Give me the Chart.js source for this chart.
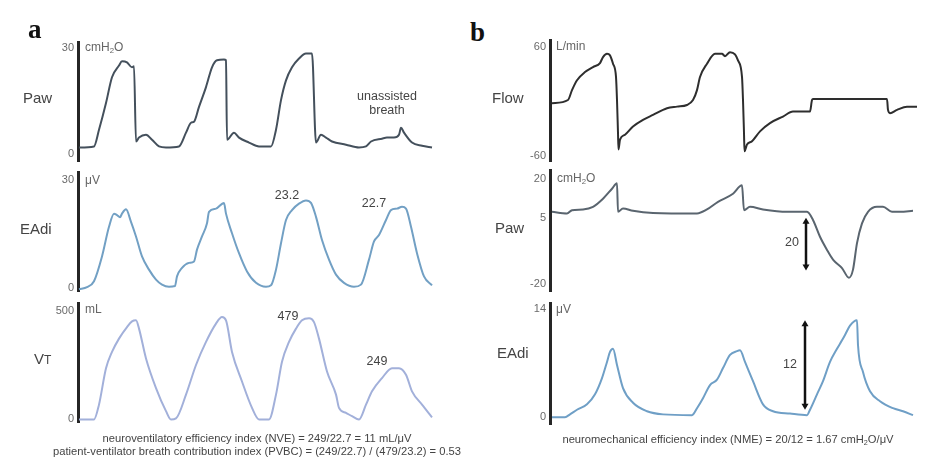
<!DOCTYPE html>
<html>
<head>
<meta charset="utf-8">
<script src="https://cdn.jsdelivr.net/npm/chart.js@4.4.1/dist/chart.umd.min.js"></script>
<style>
  html, body { margin: 0; padding: 0; background: #fff; }
  #page { position: relative; width: 950px; height: 465px; overflow: hidden; font-family: "Liberation Sans", Arial, sans-serif; }
  #page canvas { position: absolute; }
  .lbl { position: absolute; line-height: 1; white-space: nowrap; transform: translateY(-50%); }
  .panel { font-family: "Liberation Serif", "DejaVu Serif", serif; font-weight: bold; font-size: 27px; color: #111; }
  .row { font-size: 15px; color: #444; }
  .unit { font-size: 12px; color: #666; }
  .foot { font-size: 11.2px; color: #444; transform: translate(-50%, -50%); }
  sub { font-size: 0.65em; vertical-align: -0.25em; line-height: 0; }
</style>
</head>
<body>
<div id="page">
  <canvas id="pawA" width="400" height="140" style="left:38px;top:32px"></canvas>
  <canvas id="eadiA" width="400" height="140" style="left:38px;top:162px"></canvas>
  <canvas id="vtA" width="400" height="140" style="left:38px;top:293px"></canvas>
  <canvas id="flowB" width="410" height="142" style="left:510px;top:30px"></canvas>
  <canvas id="pawB" width="410" height="142" style="left:510px;top:160px"></canvas>
  <canvas id="eadiB" width="410" height="142" style="left:510px;top:293px"></canvas>

  <div class="lbl panel" style="left:28px;top:29px">a</div>
  <div class="lbl panel" style="left:470px;top:32px">b</div>

  <div class="lbl row" style="left:23px;top:97px">Paw</div>
  <div class="lbl row" style="left:20px;top:228px">EAdi</div>
  <div class="lbl row" style="left:34px;top:358px">V<span style="font-size:0.8em">T</span></div>
  <div class="lbl row" style="left:492px;top:97px">Flow</div>
  <div class="lbl row" style="left:495px;top:227px">Paw</div>
  <div class="lbl row" style="left:497px;top:352px">EAdi</div>

  <div class="lbl unit" style="left:85px;top:47px">cmH<sub>2</sub>O</div>
  <div class="lbl unit" style="left:85px;top:180px">μV</div>
  <div class="lbl unit" style="left:85px;top:309px">mL</div>
  <div class="lbl unit" style="left:556px;top:46px">L/min</div>
  <div class="lbl unit" style="left:557px;top:178px">cmH<sub>2</sub>O</div>
  <div class="lbl unit" style="left:556px;top:309px">μV</div>

  <div class="lbl foot" style="left:257px;top:439px">neuroventilatory efficiency index (NVE) = 249/22.7 = 11 mL/μV</div>
  <div class="lbl foot" style="left:257px;top:452px">patient-ventilator breath contribution index (PVBC) = (249/22.7) / (479/23.2) = 0.53</div>
  <div class="lbl foot" style="left:728px;top:440px">neuromechanical efficiency index (NME) = 20/12 = 1.67 cmH<sub>2</sub>O/μV</div>
</div>

<script>
// ---- data (time in arbitrary units, values in the panel's unit) ----

// a: Paw (cmH2O)
const pawATime = [1,16,21,28,34,41,44,49,54,56,58,61,68,74,81,88,101,108,113,116,121,128,134,139,146,148,149,156,161,171,181,193,198,203,208,214,221,228,234,238,243,248,254,268,281,288,293,304,309,316,321,323,326,334,344,354];
const pawAValues = [1.7,2.0,6.7,14.3,21.6,24.9,26.1,25.8,24.4,24.7,3.4,4.5,5.3,3.9,2.0,1.7,2.0,5.9,8.7,9.0,13.2,18.8,24.4,26.4,26.6,26.4,3.9,5.9,4.5,3.1,2.0,2.0,6.7,15.1,20.7,24.4,26.9,28.3,28.3,3.1,5.3,4.5,3.4,2.5,1.7,2.0,3.4,4.2,4.5,4.5,5.3,7.3,5.9,3.1,2.2,1.7];

// a: EAdi (uV)
const eadiATime = [1,9,16,24,31,36,39,42,44,48,53,58,64,71,78,84,91,97,99,104,111,116,119,124,129,131,138,146,148,154,161,169,178,188,193,198,203,208,214,221,228,233,238,244,251,258,266,276,283,291,296,301,308,313,319,324,328,333,339,346,354];
const eadiAValues = [-0.5,0.1,1.75,8.7,17.0,20.7,20.3,19.7,20.7,21.9,18.4,14.3,8.7,5.0,2.2,0.8,0.2,0.4,3.1,5.5,6.9,7.3,10.6,14.3,18.0,21.2,22.1,23.7,20.7,15.2,9.6,4.5,1.3,0.2,0.6,5.0,12.4,18.9,21.7,23.5,24.4,23.7,19.8,13.3,7.8,3.6,1.3,0.2,0.8,7.8,12.9,14.7,18.9,21.7,22.1,22.6,22.1,17.0,9.6,3.1,0.6];

// a: tidal volume (mL)
const vtATime = [1,16,21,28,34,41,49,54,58,61,68,78,88,93,98,108,118,128,138,144,148,154,164,174,181,191,198,204,211,218,224,231,236,241,249,258,261,268,274,281,288,294,304,314,321,328,334,344,354];
const vtAValues = [0,0,68,235,310,371,424,450,455,417,280,144,38,0,5,114,250,356,440,470,455,310,174,53,0,0,114,265,356,417,455,465,447,371,220,114,53,30,15,0,68,129,190,235,235,205,129,68,10];

// b: Flow (L/min)
const flowBTime = [2,18,22,27,35,43,50,53,57,60,63,66,67,68,68.5,70,75,83,93,103,117,127,137,143,147,150,157,165,172,175,180,185,188,192,193,194,194.5,197,202,210,220,233,243,260,262,263,337,338,340,347,357,367];
const flowBValues = [-2.5,1.1,12.0,22.9,31.9,37.4,41.8,48.3,51.9,50.2,41.1,26.5,1.1,-35.3,-53.4,-42.5,-37.1,-28.0,-20.7,-15.3,-8.0,-6.2,-4.4,1.1,12.0,26.5,41.1,51.9,51.9,49.4,53.8,51.3,44.7,26.5,1.1,-35.3,-55.3,-48.0,-44.3,-33.4,-24.3,-17.1,-11.6,-11.6,1.1,2.2,2.2,-9.8,-13.4,-9.8,-6.2,-6.2];

// b: Paw (cmH2O)
const pawBTime = [2,17,22,33,43,53,62,67,68,73,83,103,147,157,168,183,192,194,200,213,237,257,263,270,277,283,292,299,303,307,312,318,327,333,342,350,363];
const pawBValues = [7.3,6.7,7.9,8.2,9.2,12.3,16.1,18.2,7.3,8.6,7.7,6.9,6.7,8.2,11.1,14.2,17.4,7.9,9.2,8.2,7.3,7.3,4.2,-2.2,-7.2,-10.9,-14.1,-17.8,-14.7,-4.6,2.9,7.3,9.2,9.2,7.3,7.3,7.7];

// b: EAdi (uV)
const eadiBTime = [2,15,20,27,37,45,52,57,60,63,67,73,83,97,113,142,147,153,160,167,173,180,187,190,195,203,213,223,240,257,260,267,273,280,287,292,295,300,307,308,313,320,330,343,353,363];
const eadiBValues = [0.04,0.04,0.4,1.0,1.7,3.0,5.1,7.2,8.5,8.9,6.8,3.8,1.9,0.8,0.4,0.3,1.2,2.5,4.2,4.9,6.4,8.1,8.6,8.7,7.2,4.7,1.7,0.8,0.5,0.3,1.0,3.0,4.7,7.2,8.9,10.0,10.7,11.9,12.6,9.4,5.9,3.4,2.1,1.2,0.8,0.3];

// tick labels shown on each vertical axis
const pawATicks = [0, 30];
const eadiATicks = [0, 30];
const vtATicks = [0, 500];
const flowBTicks = [-60, 60];
const pawBTicks = [-20, 5, 20];
const eadiBTicks = [0, 14];

// value callouts
const eadiANotes = [{ t: 209, v: 25.8, text: '23.2' }, { t: 296, v: 23.6, text: '22.7' }];
const vtANotes = [{ t: 210, v: 473, text: '479' }, { t: 299, v: 264, text: '249' }];
const pawANotes = [{ t: 309, v: 16.0, text: 'unassisted' }, { t: 309, v: 12.3, text: 'breath' }];
const pawBNotes = [{ t: 242, v: -4.5, text: '20' }];
const eadiBNotes = [{ t: 240, v: 6.8, text: '12' }];

// double headed arrows (time, from value, to value)
const pawBArrows = [{ t: 256, from: 5, to: -15 }];
const eadiBArrows = [{ t: 255, from: 1, to: 12.6 }];

// ---- drawing ----

const notesPlugin = {
    id: 'notes',
    afterDatasetsDraw(chart, args, opts) {
        const { ctx, scales: { x, y } } = chart;
        ctx.save();
        ctx.fillStyle = '#444';
        ctx.font = '12.5px "Liberation Sans", Arial, sans-serif';
        ctx.textAlign = 'center';
        ctx.textBaseline = 'middle';
        (opts.notes || []).forEach(n => {
            ctx.fillText(n.text, x.getPixelForValue(n.t), y.getPixelForValue(n.v));
        });
        ctx.strokeStyle = '#111';
        ctx.fillStyle = '#111';
        ctx.lineWidth = 2.5;
        (opts.arrows || []).forEach(a => {
            const px = x.getPixelForValue(a.t);
            const y1 = y.getPixelForValue(a.from);
            const y2 = y.getPixelForValue(a.to);
            const top = Math.min(y1, y2), bot = Math.max(y1, y2);
            ctx.beginPath();
            ctx.moveTo(px, top + 3);
            ctx.lineTo(px, bot - 3);
            ctx.stroke();
            [[top, 1], [bot, -1]].forEach(([tip, dir]) => {
                ctx.beginPath();
                ctx.moveTo(px, tip);
                ctx.lineTo(px - 3.5, tip + dir * 6);
                ctx.lineTo(px + 3.5, tip + dir * 6);
                ctx.closePath();
                ctx.fill();
            });
        });
        ctx.restore();
    }
};

function makeTrace(id, times, values, o) {
    const points = times.map((t, i) => ({ x: t, y: values[i] }));
    return new Chart(document.getElementById(id), {
        type: 'line',
        data: {
            datasets: [{
                data: points,
                borderColor: o.color,
                borderWidth: 2,
                pointRadius: 0,
                cubicInterpolationMode: 'monotone',
                fill: false
            }]
        },
        options: {
            responsive: false,
            animation: false,
            events: [],
            layout: { padding: { top: 10, bottom: 10, left: 0, right: 0 } },
            plugins: {
                legend: { display: false },
                tooltip: { enabled: false },
                notes: { notes: o.notes || [], arrows: o.arrows || [] }
            },
            scales: {
                x: { type: 'linear', display: false, min: 0, max: o.xMax },
                y: {
                    type: 'linear',
                    min: o.yMin,
                    max: o.yMax,
                    afterBuildTicks: scale => { scale.ticks = o.ticks.map(v => ({ value: v })); },
                    afterFit: scale => { scale.width = 40; },
                    grid: { display: false, drawTicks: false },
                    border: { display: true, color: '#262626', width: 3 },
                    ticks: {
                        padding: 4,
                        color: '#6a6a6a',
                        font: { family: '"Liberation Sans", Arial, sans-serif', size: 11 }
                    }
                }
            }
        },
        plugins: [notesPlugin]
    });
}

makeTrace('pawA', pawATime, pawAValues, { color: '#44505c', xMax: 360, yMin: -2.24, yMax: 31.4, ticks: pawATicks, notes: pawANotes });
makeTrace('eadiA', eadiATime, eadiAValues, { color: '#72a0c4', xMax: 360, yMin: -1.1, yMax: 32.2, ticks: eadiATicks, notes: eadiANotes });
makeTrace('vtA', vtATime, vtAValues, { color: '#a2b0da', xMax: 360, yMin: -13.6, yMax: 531.8, ticks: vtATicks, notes: vtANotes });
makeTrace('flowB', flowBTime, flowBValues, { color: '#2e2e2e', xMax: 370, yMin: -66.5, yMax: 66.5, ticks: flowBTicks });
makeTrace('pawB', pawBTime, pawBValues, { color: '#5a656f', xMax: 370, yMin: -23, yMax: 23, ticks: pawBTicks, notes: pawBNotes, arrows: pawBArrows });
makeTrace('eadiB', eadiBTime, eadiBValues, { color: '#6f9fc6', xMax: 370, yMin: -0.9, yMax: 14.76, ticks: eadiBTicks, notes: eadiBNotes, arrows: eadiBArrows });
</script>
</body>
</html>
